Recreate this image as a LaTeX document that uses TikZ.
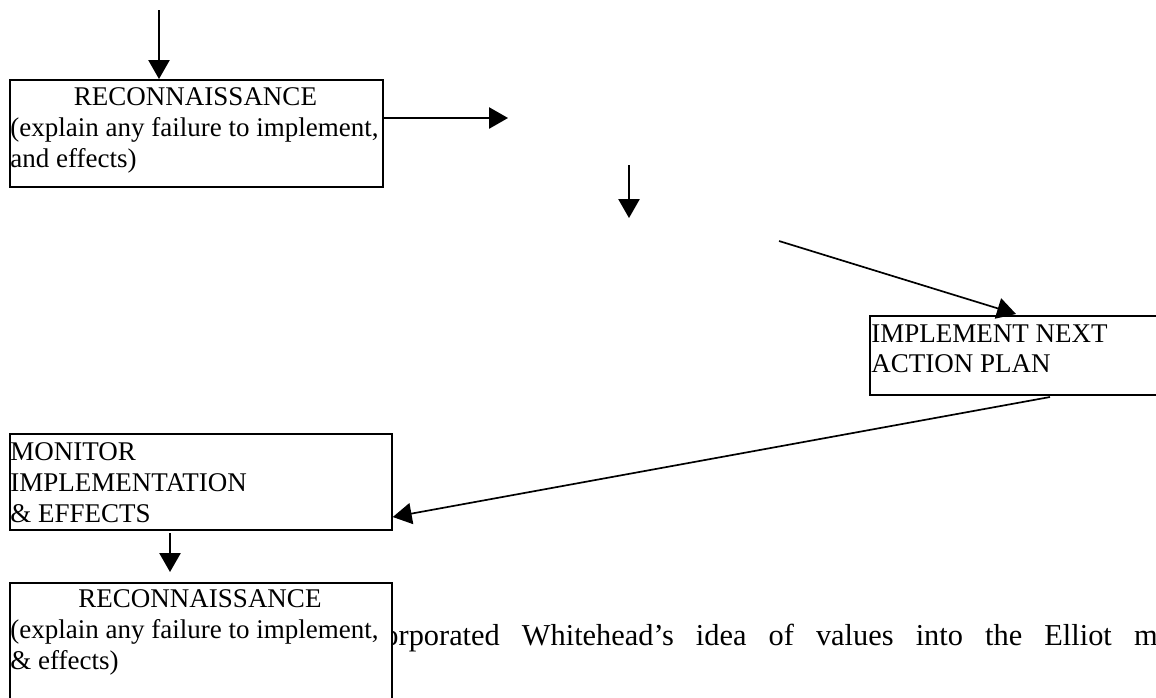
\documentclass[tikz,border=0pt]{standalone}
\usepackage{fontspec}
\setmainfont{Liberation Serif}
\usetikzlibrary{arrows.meta}
\begin{document}
\begin{tikzpicture}[x=0.4444pt,y=-0.4444pt,
  boxstyle/.style={draw,line width=0.75pt,fill=white,rectangle,anchor=north west,inner sep=0pt},
  txt/.style={inner sep=0pt,font=\fontsize{12}{13.8}\selectfont},
  bodytxt/.style={inner sep=0pt,font=\fontsize{13.5}{15.5}\selectfont,anchor=base west},
  flow/.style={line width=0.75pt,-{Triangle[length=8.4pt,width=9.4pt]}}]
\useasboundingbox (0,0) rectangle (1156,697);

% body text (partly hidden by the last box)
\node[bodytxt] (body) at (383,645) {\makebox[344pt][s]{orporated Whitehead’s idea of values into the Elliot m}};

% boxes
\node[boxstyle,minimum width=165.8pt,minimum height=47.55pt] (b1) at (9,79) {};
\node[boxstyle,minimum width=142.2pt,minimum height=35.1pt] (b2) at (869,315) {};
\node[boxstyle,minimum width=169.8pt,minimum height=42.7pt] (b3) at (9,433) {};
\node[boxstyle,minimum width=169.8pt,minimum height=57.8pt] (b4) at (9,582) {};

% box texts
\node[txt,anchor=base] (b1l1) at (195.5,105) {RECONNAISSANCE};
\node[txt,anchor=base west] (b1l2) at (10,136) {(explain any failure to implement,};
\node[txt,anchor=base west] (b1l3) at (10,167) {and effects)};

\node[txt,anchor=base west] (b2l1) at (871,342) {IMPLEMENT NEXT};
\node[txt,anchor=base west] (b2l2) at (871,372) {ACTION PLAN};

\node[txt,anchor=base west] (b3l1) at (10,460) {MONITOR};
\node[txt,anchor=base west] (b3l2) at (10,491) {IMPLEMENTATION};
\node[txt,anchor=base west] (b3l3) at (10,522) {\& EFFECTS};

\node[txt,anchor=base] (b4l1) at (200,607) {RECONNAISSANCE};
\node[txt,anchor=base west] (b4l2) at (10,638) {(explain any failure to implement,};
\node[txt,anchor=base west] (b4l3) at (10,669) {\& effects)};

% connector ends
\coordinate (a0) at (159,10);
\coordinate (bEnd) at (508,118);
\coordinate (c0) at (629,165);
\coordinate (c1) at (629,218);
\coordinate (d0) at (779,241);
\coordinate (d1) at (1016,314);
\coordinate (e0) at (1050,397);
\coordinate (e1) at (391,517);
\coordinate (f0) at (170,533);
\coordinate (f1) at (170,572);

% connectors
\draw[flow] (a0) -- (a0 |- b1.north);
\draw[flow] (b1.east |- bEnd) -- (bEnd);
\draw[flow] (c0) -- (c1);
\draw[flow] (d0) -- (d1);
\draw[flow] (e0) -- (b3.east |- e1);
\draw[flow] (f0) -- (f1);
\end{tikzpicture}
\end{document}
